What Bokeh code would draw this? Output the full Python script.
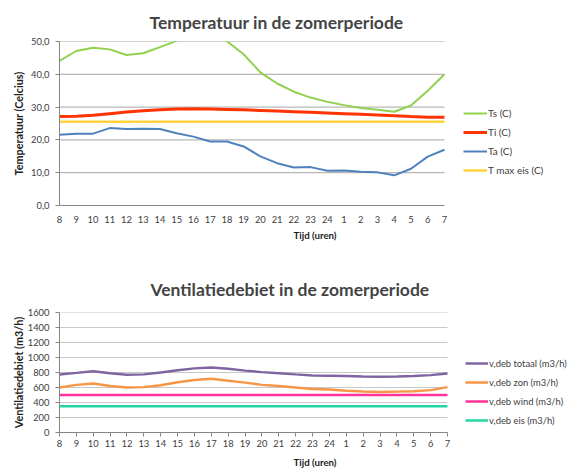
from bokeh.plotting import figure
from bokeh.models import Range1d, FixedTicker, Legend, LegendItem, CustomJSTickFormatter
from bokeh.layouts import column
from bokeh.embed import file_html
from bokeh.resources import INLINE

hours = ["8", "9", "10", "11", "12", "13", "14", "15", "16", "17", "18", "19",
         "20", "21", "22", "23", "24", "1", "2", "3", "4", "5", "6", "7"]

ts = [44.1, 47.1, 48.1, 47.6, 45.9, 46.4, 48.3, 50.2, 51.5, 51.5, 50.1, 46.1,
      40.6, 37.2, 34.7, 32.9, 31.6, 30.6, 29.7, 29.2, 28.6, 30.5, 35.0, 40.0]
ti = [27.1, 27.2, 27.5, 28.0, 28.5, 28.9, 29.2, 29.4, 29.5, 29.4, 29.3, 29.2,
      29.0, 28.8, 28.6, 28.4, 28.2, 28.0, 27.8, 27.6, 27.4, 27.1, 26.9, 26.9]
ta = [21.6, 21.9, 21.9, 23.6, 23.3, 23.4, 23.3, 22.0, 21.0, 19.5, 19.5, 18.0,
      15.0, 12.9, 11.6, 11.7, 10.6, 10.7, 10.3, 10.1, 9.2, 11.2, 14.9, 17.0]
tmax = [25.5] * 24

temp_ticks = [0, 10, 20, 30, 40, 50]

deb_totaal = [774, 795, 817, 790, 770, 775, 800, 830, 855, 867, 850, 825,
              805, 790, 775, 761, 757, 752, 747, 744, 747, 752, 765, 788]
deb_zon = [600, 635, 652, 620, 600, 605, 630, 670, 700, 718, 690, 665,
           635, 620, 600, 579, 573, 558, 548, 540, 545, 550, 565, 605]
deb_wind = [500] * 24
deb_eis = [350] * 24

deb_ticks = [0, 200, 400, 600, 800, 1000, 1200, 1400, 1600]

FONT = "Lato"
xs = list(range(len(hours)))
x_over = {i: h for i, h in enumerate(hours)}
W = 570


def make_fig(height, left, top, bottom, x_end_px, y_max, title):
    # frame spans to the right edge; the category axis occupies left..x_end_px
    n = len(xs) - 1
    x_hi = n * (W - left) / (x_end_px - left)
    p = figure(width=W, height=height, output_backend="svg", toolbar_location=None,
               x_range=Range1d(0, x_hi), y_range=Range1d(0, y_max),
               min_border_left=left, min_border_right=0, min_border_top=top,
               min_border_bottom=bottom, title=title)
    p.outline_line_color = None
    p.xgrid.visible = False
    p.ygrid.visible = False
    for ax in (p.xaxis[0], p.yaxis[0]):
        ax.axis_line_color = "#868686"
        ax.major_tick_line_color = "#868686"
        ax.minor_tick_line_color = None
        ax.major_tick_in = 0
        ax.major_label_text_font = FONT
        ax.major_label_text_font_size = "9.4px"
        ax.major_label_text_color = "#404040"
        ax.axis_label_text_font = FONT
        ax.axis_label_text_font_style = "bold"
        ax.axis_label_text_color = "#222222"
    p.xaxis[0].axis_label_text_font_size = "9.7px"
    p.yaxis[0].axis_label_text_font_size = "10.8px"
    p.yaxis[0].major_tick_out = 4
    p.yaxis[0].major_label_standoff = 6
    p.xaxis[0].ticker = FixedTicker(ticks=xs)
    p.xaxis[0].major_label_overrides = x_over
    p.xaxis[0].axis_label = "Tijd (uren)"
    p.xaxis[0].bounds = (xs[0], xs[-1])
    p.title.text_font = FONT
    p.title.text_font_size = "17.5px"
    p.title.text_font_style = "bold"
    p.title.align = "left"
    return p


def add_grid(p, ticks, color):
    gt = [t for t in ticks if t != ticks[0]]
    p.segment(x0=[xs[0]] * len(gt), x1=[xs[-1]] * len(gt), y0=gt, y1=gt,
              line_color=color, line_width=1)


def make_legend(items, x, y, gw, fs):
    return Legend(items=items, location=(x, y), padding=0, margin=0, spacing=5,
                  glyph_width=gw, glyph_height=14, label_height=14, label_standoff=1,
                  label_text_font=FONT, label_text_font_size=fs,
                  label_text_color="#404040", border_line_color=None,
                  background_fill_alpha=0)


# ---------- top chart ----------
p1 = make_fig(260, 55, 41, 55, 443, 50, "Temperatuur in de zomerperiode")
p1.title.offset = 90
p1.title.standoff = 18
p1.xaxis[0].major_tick_out = 0
p1.xaxis[0].major_label_standoff = 10
p1.xaxis[0].axis_label_standoff = 3
p1.yaxis[0].axis_label_standoff = 3
p1.yaxis[0].ticker = FixedTicker(ticks=temp_ticks)
p1.yaxis[0].formatter = CustomJSTickFormatter(code="return tick.toFixed(1).replace('.', ',');")
p1.yaxis[0].axis_label = "Temperatuur (Celcius)"
add_grid(p1, temp_ticks, "#A6A6A6")

r_ts = p1.line(xs, ts, line_color="#92D050", line_width=2)
r_ti = p1.line(xs, ti, line_color="#FF3300", line_width=3)
r_ta = p1.line(xs, ta, line_color="#4F81BD", line_width=2)
r_tm = p1.line(xs, tmax, line_color="#FFD23F", line_width=2.5)

p1.add_layout(make_legend([LegendItem(label="Ts (C)", renderers=[r_ts]),
                           LegendItem(label="Ti (C)", renderers=[r_ti]),
                           LegendItem(label="Ta (C)", renderers=[r_ta]),
                           LegendItem(label="T max eis (C)", renderers=[r_tm])],
                          404, 28, 24, "10px"), "center")

# ---------- bottom chart ----------
p2 = make_fig(210, 59, 52, 36, 447, 1600, "Ventilatiedebiet in de zomerperiode")
p2.title.offset = 91
p2.title.standoff = 25
p2.xaxis[0].major_tick_out = 4
p2.xaxis[0].major_label_standoff = 3
p2.xaxis[0].axis_label_standoff = 6
p2.yaxis[0].axis_label_standoff = 0
p2.yaxis[0].ticker = FixedTicker(ticks=deb_ticks)
p2.yaxis[0].axis_label = "Ventilatiedebiet (m3/h)"
add_grid(p2, deb_ticks, "#C8C8C8")

r_tot = p2.line(xs, deb_totaal, line_color="#8064A2", line_width=2.5)
r_zon = p2.line(xs, deb_zon, line_color="#F79646", line_width=2.5)
r_wind = p2.line(xs, deb_wind, line_color="#FF3399", line_width=2.5)
r_eis = p2.line(xs, deb_eis, line_color="#22D6A2", line_width=2.5)

p2.add_layout(make_legend([LegendItem(label="v,deb totaal (m3/h)", renderers=[r_tot]),
                           LegendItem(label="v,deb zon (m3/h)", renderers=[r_zon]),
                           LegendItem(label="v,deb wind (m3/h)", renderers=[r_wind]),
                           LegendItem(label="v,deb eis (m3/h)", renderers=[r_eis])],
                          406, 5, 23, "9.4px"), "center")

layout = column(p1, p2, spacing=0)
open("out.html", "w").write(file_html(layout, INLINE))
